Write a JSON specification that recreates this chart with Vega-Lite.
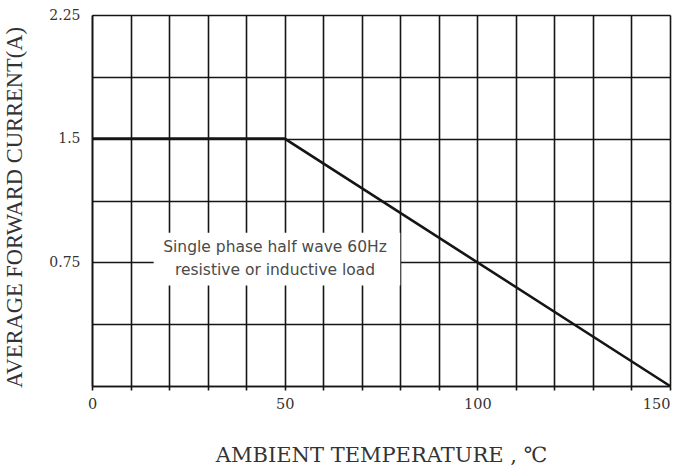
{
  "$schema": "https://vega.github.io/schema/vega-lite/v6.json",
  "width": 578,
  "height": 371,
  "autosize": {"type": "none"},
  "padding": {"left": 92, "top": 15, "right": 5, "bottom": 87},
  "background": "white",
  "datasets": {
    "curve": [{"x": 0, "y": 1.5}, {"x": 50, "y": 1.5}, {"x": 150, "y": 0}],
    "box": [{"x": 16, "x2": 80, "y": 0.61, "y2": 0.93}],
    "note": [
      {"x": 47.5, "y": 0.843, "text": "Single phase half wave 60Hz"},
      {"x": 47.5, "y": 0.703, "text": "resistive or inductive load"}
    ]
  },
  "config": {
    "view": {"stroke": null},
    "font": "Liberation Serif",
    "axis": {
      "grid": true,
      "gridColor": "#151515",
      "gridWidth": 1.6,
      "gridOpacity": 1,
      "domain": true,
      "domainColor": "#151515",
      "domainWidth": 1.6,
      "tickColor": "#151515",
      "tickWidth": 1.6,
      "labelFont": "DejaVu Serif",
      "labelColor": "#333",
      "labelOverlap": false,
      "titleFontWeight": "normal",
      "titleColor": "#333"
    }
  },
  "encoding": {
    "x": {
      "field": "x",
      "type": "quantitative",
      "scale": {"domain": [0, 150], "nice": false, "zero": false},
      "axis": {
        "values": [0, 10, 20, 30, 40, 50, 60, 70, 80, 90, 100, 110, 120, 130, 140, 150],
        "labelExpr": "datum.value % 50 == 0 ? datum.label : ''",
        "labelAlign": {"condition": {"test": "datum.value == 150", "value": "right"}, "value": "center"},
        "labelFontSize": 14.5,
        "tickSize": 4,
        "labelPadding": 7,
        "labelFlush": false,
        "title": "AMBIENT TEMPERATURE , ℃",
        "titleFont": "DejaVu Serif",
        "titleFontSize": 21,
        "titlePadding": 34
      }
    },
    "y": {
      "field": "y",
      "type": "quantitative",
      "scale": {"domain": [0, 2.25], "nice": false},
      "axis": {
        "values": [0, 0.375, 0.75, 1.125, 1.5, 1.875, 2.25],
        "labelExpr": "datum.value == 0.75 ? '0.75' : datum.value == 1.5 ? '1.5' : datum.value == 2.25 ? '2.25' : ''",
        "labelFontSize": 14,
        "tickSize": 0,
        "labelPadding": 12,
        "labelFlush": false,
        "title": "AVERAGE FORWARD CURRENT(A)",
        "titleFont": "Liberation Serif",
        "titleFontSize": 22.5,
        "titlePadding": 22,
        "titleY": 192
      }
    }
  },
  "layer": [
    {
      "data": {"name": "curve"},
      "mark": {"type": "line", "color": "#151515", "strokeWidth": 2.6}
    },
    {
      "data": {"name": "box"},
      "mark": {"type": "rect", "fill": "white"},
      "encoding": {
        "x2": {"field": "x2"},
        "y2": {"field": "y2"}
      }
    },
    {
      "data": {"name": "note"},
      "mark": {"type": "text", "font": "DejaVu Sans", "fontSize": 15.5, "color": "#4a4a4a", "align": "center", "baseline": "middle"},
      "encoding": {
        "text": {"field": "text"}
      }
    }
  ]
}
